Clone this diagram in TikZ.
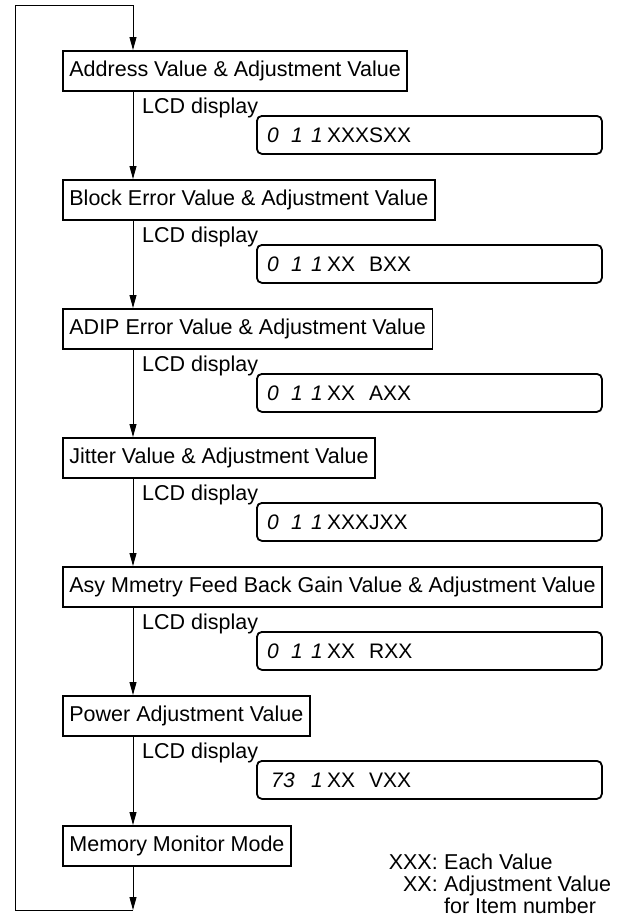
\documentclass[tikz,border=0pt]{standalone}
\usepackage{fontspec}
\setmainfont{Liberation Sans}
\usetikzlibrary{arrows.meta}
\begin{document}
\begin{tikzpicture}[x=1pt,y=-1pt,
  txt/.style={font=\fontsize{21.5}{25}\selectfont},
  box/.style={txt,draw,line width=1.8pt,anchor=north west,minimum height=40pt,inner xsep=6.5pt,inner ysep=0pt},
  lcd/.style={draw,line width=1.8pt,rounded corners=5pt,anchor=north west,minimum width=345pt,minimum height=38pt,inner sep=0pt},
  lbl/.style={txt,anchor=base west,inner sep=0pt},
  conn/.style={line width=0.9pt},
  arr/.style={conn,-{Triangle[length=13pt,width=7pt]}},
  seg/.style={inner sep=0pt,font=\fontsize{21}{25}\selectfont\itshape},
  lcdtxt/.style={anchor=west,inner sep=0pt,font=\fontsize{21}{25}\selectfont},
]
\useasboundingbox (0,0) rectangle (622,922);

% flow boxes
\node[box] (b1) at (62,50)  {Address Value \& Adjustment Value};
\node[box] (b2) at (62,179) {Block Error Value \& Adjustment Value};
\node[box] (b3) at (62,308) {ADIP Error Value \& Adjustment Value};
\node[box] (b4) at (62,437) {Jitter Value \& Adjustment Value};
\node[box] (b5) at (62,566) {Asy Mmetry Feed Back Gain Value \& Adjustment Value};
\node[box] (b6) at (62,695) {Power Adjustment Value};
\node[box] (b7) at (62,825) {Memory Monitor Mode};

% LCD labels
\node[lbl] (t1) at (142,113) {LCD display};
\node[lbl] (t2) at (142,242) {LCD display};
\node[lbl] (t3) at (142,371) {LCD display};
\node[lbl] (t4) at (142,500) {LCD display};
\node[lbl] (t5) at (142,629) {LCD display};
\node[lbl] (t6) at (142,758) {LCD display};

% LCD boxes
\node[lcd] (l1) at (256,115) {};
\node[lcd] (l2) at (256,244) {};
\node[lcd] (l3) at (256,373) {};
\node[lcd] (l4) at (256,502) {};
\node[lcd] (l5) at (256,631) {};
\node[lcd] (l6) at (256,760) {};

% LCD contents
\foreach \n/\s in {l1/XXXSXX,l2/XX\phantom{X}BXX,l3/XX\phantom{X}AXX,l4/XXXJXX,l5/XX\phantom{X}RXX,l6/XX\phantom{X}VXX}{
  \node[lcdtxt] at ([xshift=71pt]\n.west) {\s};
}
\foreach \n in {l1,l2,l3,l4,l5}{
  \node[seg] at ([xshift=17pt]\n.west) {0};
  \node[seg] at ([xshift=41pt]\n.west) {1};
  \node[seg] at ([xshift=61pt]\n.west) {1};
}
\node[seg] at ([xshift=21pt]l6.west) {7};
\node[seg] at ([xshift=33pt]l6.west) {3};
\node[seg] at ([xshift=61pt]l6.west) {1};

% connectors
\coordinate (sp) at (133,0);
\coordinate (tr) at (133,5);
\coordinate (tl) at (15,5);
\coordinate (bl) at (15,910);
\coordinate (br) at (133,910);
\draw[conn] (br) -- (bl) -- (tl) -- (tr);
\draw[arr] (tr) -- (b1.north -| sp);
\draw[arr] (b1.south -| sp) -- (b2.north -| sp);
\draw[arr] (b2.south -| sp) -- (b3.north -| sp);
\draw[arr] (b3.south -| sp) -- (b4.north -| sp);
\draw[arr] (b4.south -| sp) -- (b5.north -| sp);
\draw[arr] (b5.south -| sp) -- (b6.north -| sp);
\draw[arr] (b6.south -| sp) -- (b7.north -| sp);
\draw[arr] (b7.south -| sp) -- (br);

% legend
\node[lbl,anchor=base east] (k1) at (438,869) {XXX:};
\node[lbl] (v1) at (444,869) {Each Value};
\node[lbl,anchor=base east] (k2) at (438,891) {XX:};
\node[lbl] (v2) at (444,891) {Adjustment Value};
\node[lbl] (v3) at (444,913) {for Item number};
\end{tikzpicture}
\end{document}
